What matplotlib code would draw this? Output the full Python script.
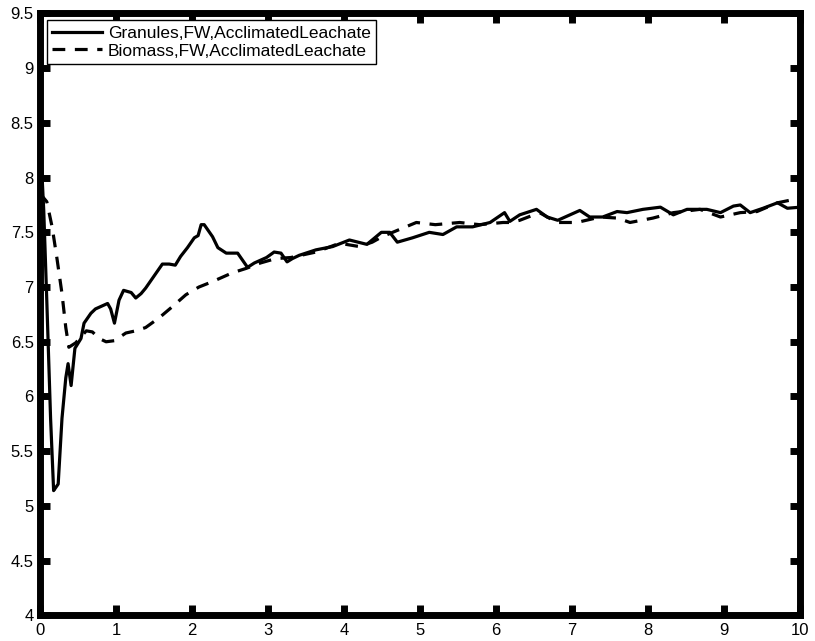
import numpy as np
import matplotlib.pyplot as plt

plt.rcParams['font.family'] = ['Liberation Sans', 'DejaVu Sans']

# values
granules_x = [0.0, 0.05, 0.09, 0.14, 0.18, 0.21, 0.24, 0.29, 0.34, 0.37, 0.41, 0.46,
              0.54, 0.58, 0.67, 0.73, 0.89, 0.93, 0.98, 1.04, 1.1, 1.2, 1.26, 1.33,
              1.39, 1.46, 1.54, 1.61, 1.7, 1.78, 1.85, 1.94, 2.03, 2.08, 2.12, 2.16,
              2.27, 2.34, 2.45, 2.6, 2.69, 2.73, 2.82, 2.98, 3.08, 3.17, 3.25, 3.32,
              3.41, 3.63, 3.85, 4.07, 4.3, 4.49, 4.6, 4.7, 4.9, 5.12, 5.3, 5.48,
              5.69, 5.92, 6.11, 6.18, 6.31, 6.53, 6.67, 6.81, 7.1, 7.23, 7.4, 7.59,
              7.72, 7.93, 8.16, 8.33, 8.51, 8.77, 8.95, 9.12, 9.21, 9.34, 9.51, 9.7,
              9.83, 10.0]
granules_y = [8.41, 7.7, 6.88, 5.8, 5.14, 5.17, 5.2, 5.8, 6.17, 6.3, 6.1, 6.44,
              6.53, 6.67, 6.76, 6.8, 6.85, 6.8, 6.67, 6.88, 6.97, 6.95, 6.9, 6.94,
              6.99, 7.06, 7.14, 7.21, 7.21, 7.2, 7.28, 7.36, 7.45, 7.47, 7.57, 7.57,
              7.46, 7.36, 7.31, 7.31, 7.22, 7.18, 7.22, 7.27, 7.32, 7.31, 7.23, 7.26,
              7.29, 7.34, 7.37, 7.43, 7.39, 7.5, 7.5, 7.41, 7.45, 7.5, 7.48, 7.55,
              7.55, 7.59, 7.68, 7.6, 7.66, 7.71, 7.64, 7.61, 7.7, 7.64, 7.64, 7.69,
              7.68, 7.71, 7.73, 7.66, 7.71, 7.71, 7.68, 7.74, 7.75, 7.68, 7.72, 7.77,
              7.72, 7.73]

biomass_x = [0.0, 0.03, 0.09, 0.16, 0.22, 0.29, 0.34, 0.38, 0.47, 0.61, 0.69, 0.78,
             0.87, 0.98, 1.13, 1.26, 1.39, 1.57, 1.74, 1.92, 2.09, 2.27, 2.53, 2.71,
             2.9, 3.1, 3.3, 3.63, 3.94, 4.2, 4.37, 4.5, 4.95, 5.2, 5.52, 5.78, 6.09,
             6.18, 6.31, 6.57, 6.8, 7.06, 7.37, 7.6, 7.76, 8.06, 8.33, 8.68, 8.95,
             9.21, 9.43, 9.7, 9.91, 10.0]
biomass_y = [7.86, 7.83, 7.78, 7.55, 7.28, 6.94, 6.63, 6.45, 6.49, 6.6, 6.59, 6.53,
             6.5, 6.51, 6.58, 6.6, 6.63, 6.72, 6.82, 6.93, 7.0, 7.05, 7.13, 7.17,
             7.22, 7.26, 7.27, 7.32, 7.4, 7.37, 7.41, 7.46, 7.59, 7.57, 7.59, 7.57,
             7.59, 7.59, 7.61, 7.68, 7.59, 7.59, 7.64, 7.63, 7.59, 7.63, 7.68, 7.71,
             7.64, 7.68, 7.69, 7.77, 7.8, 7.82]

xticks = list(range(0, 11))
yticks = [4, 4.5, 5, 5.5, 6, 6.5, 7, 7.5, 8, 8.5, 9, 9.5]
ytick_labels = ['4', '4.5', '5', '5.5', '6', '6.5', '7', '7.5', '8', '8.5', '9', '9.5']

fig = plt.figure(figsize=(8.15, 6.41), dpi=100)
ax = fig.add_axes([0.049, 0.040, 0.933, 0.939])

ax.plot(granules_x, granules_y, color='black', lw=2.3, label='Granules,FW,AcclimatedLeachate')
ax.plot(biomass_x, biomass_y, color='black', lw=2.3, dashes=(4, 3),
        label='Biomass,FW,AcclimatedLeachate')

ax.set_xlim(0, 10)
ax.set_ylim(4, 9.5)
ax.set_xticks(xticks)
ax.set_xticklabels([str(t) for t in xticks])
ax.set_yticks(yticks)
ax.set_yticklabels(ytick_labels)

for sp in ax.spines.values():
    sp.set_linewidth(5.0)
ax.tick_params(direction='in', length=7, width=5, top=True, right=True,
               labelsize=12)
ax.tick_params(axis='x', pad=5.5)
ax.tick_params(axis='y', pad=4.5)

leg = ax.legend(loc='upper left', fontsize=12.5, fancybox=False, framealpha=1,
                edgecolor='black', borderaxespad=0.4, handlelength=2.9,
                handletextpad=0.3, borderpad=0.3, labelspacing=0.15)
leg.get_frame().set_linewidth(1.0)

fig.savefig('out.png', dpi=100)
